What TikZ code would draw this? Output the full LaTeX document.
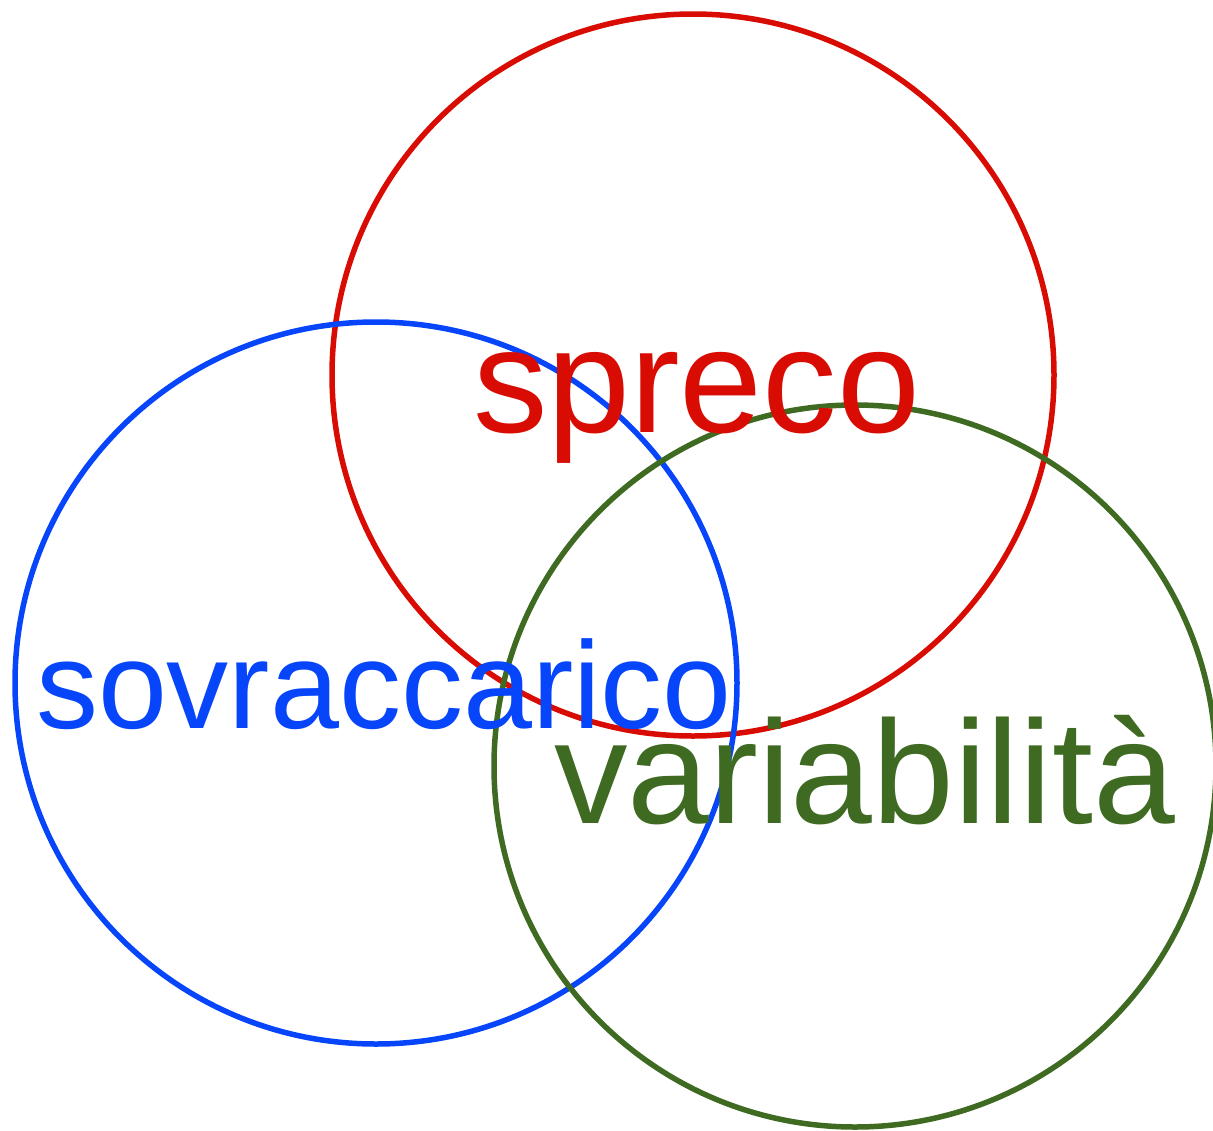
\documentclass[tikz,border=0pt]{standalone}
\usepackage{fontspec}
\setmainfont{Liberation Sans}
\definecolor{cred}{HTML}{D90C04}
\definecolor{cblue}{HTML}{0645FA}
\definecolor{cgreen}{HTML}{3F6A22}
\begin{document}
\begin{tikzpicture}[x=1pt,y=-1pt,
  ring/.style={circle,draw,line width=5.5pt,inner sep=0pt,minimum size=722pt},
  lbl/.style={anchor=base west,inner sep=0pt,outer sep=0pt}]
\useasboundingbox (0,0) rectangle (1213,1130);
\node[ring,draw=cred] (red) at (693,375) {};
\node[ring,draw=cblue] (blue) at (376,683) {};
\node[ring,draw=cgreen] (green) at (855,766) {};
\node[lbl,text=cred,font=\fontsize{149}{154}\selectfont] (spreco) at (473,432) {spreco};
\node[lbl,text=cblue,font=\fontsize{124}{128}\selectfont] (sovr) at (36,728) {sovraccarico};
\node[lbl,text=cgreen,font=\fontsize{147}{152}\selectfont] (var) at (554,823) {variabilità};
\end{tikzpicture}
\end{document}
